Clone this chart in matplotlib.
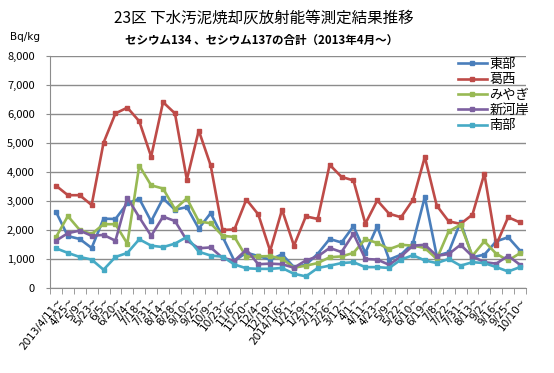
import matplotlib
matplotlib.use("Agg")
import matplotlib.pyplot as plt
from matplotlib.ticker import FuncFormatter, FixedLocator

plt.rcParams['font.family'] = ['Noto Sans CJK JP', 'DejaVu Sans']

# 測定期間 (x軸ラベル)
periods = ["2013/4/11~", "4/25~", "5/9~", "5/23~", "6/5~", "6/20~", "7/4~", "7/18~",
           "7/31~", "8/14~", "8/28~", "9/10~", "9/25~", "10/9~", "10/23~", "11/6~",
           "11/20~", "12/4~", "12/19~", "2014/1/6~", "1/21~", "1/29~", "2/13~", "2/26~",
           "3/12~", "4/1~", "4/11~", "4/23~", "5/9~", "5/22~", "6/10~", "6/19~",
           "7/8~", "7/22~", "7/31~", "8/13~", "9/2~", "9/16~", "9/25~", "10/10~"]

# Bq/kg
tobu = [2630, 1790, 1690, 1380, 2390, 2380, 2920, 3080, 2300, 3090,
        2700, 2790, 2050, 2580, 1770, 930, 1220, 1100, 980, 1160,
        720, 800, 1180, 1690, 1570, 2130, 1210, 2130, 980, 1150,
        1550, 3140, 1110, 1230, 2280, 1060, 1150, 1610, 1750, 1290]
kasai = [3530, 3200, 3200, 2860, 5010, 6020, 6220, 5750, 4530, 6410,
         6020, 3740, 5430, 4230, 2000, 2020, 3050, 2540, 1280, 2700,
         1460, 2470, 2380, 4250, 3830, 3710, 2220, 3020, 2560, 2440,
         3040, 4520, 2840, 2300, 2210, 2530, 3940, 1490, 2440, 2260]
miyagi = [1750, 2480, 2000, 1860, 2200, 2200, 1530, 4220, 3540, 3430,
          2720, 3090, 2300, 2230, 1800, 1760, 1070, 1090, 1100, 1010,
          700, 770, 860, 1060, 1090, 1210, 1690, 1550, 1340, 1490,
          1460, 1380, 1000, 1950, 2180, 1110, 1610, 1180, 950, 1200]
shinkashi = [1630, 1890, 1980, 1800, 1830, 1630, 3110, 2440, 1800, 2460,
             2310, 1640, 1370, 1400, 1040, 940, 1320, 820, 840, 820,
             700, 950, 1090, 1380, 1240, 1870, 1000, 980, 800, 1090,
             1460, 1490, 1110, 1170, 1490, 1090, 890, 840, 1110, 800]
nambu = [1370, 1210, 1070, 980, 630, 1070, 1210, 1680, 1460, 1410,
         1530, 1760, 1250, 1120, 1080, 810, 680, 660, 660, 690,
         490, 400, 690, 770, 860, 890, 720, 720, 690, 980,
         1130, 950, 860, 1000, 770, 890, 860, 720, 570, 720]

series = [("東部", tobu, "#4A7EBB"),
          ("葛西", kasai, "#BE4B48"),
          ("みやぎ", miyagi, "#98B954"),
          ("新河岸", shinkashi, "#7D60A0"),
          ("南部", nambu, "#46AAC5")]

fig = plt.figure(figsize=(5.54, 3.73), dpi=100)
ax = fig.add_axes([50/554, 1-288/373, 476/554, 232/373])

x = list(range(len(periods)))
for name, vals, col in series:
    ax.plot(x, vals, color=col, lw=1.9, marker="s", ms=3.2, label=name)

ax.set_xlim(-0.5, len(periods)-0.5)
ax.set_ylim(0, 8000)
ax.set_yticks(range(0, 8001, 1000))
ax.yaxis.set_major_formatter(FuncFormatter(lambda v, p: f"{int(v):,}"))
ax.grid(axis="y", color="#8c8c8c", lw=1)
ax.set_axisbelow(True)

ax.set_xticks(x)
ax.set_xticklabels(periods, rotation=52, ha="right", va="top", rotation_mode="anchor",
                   fontsize=7.5, family=["DejaVu Sans"])
ax.xaxis.set_minor_locator(FixedLocator([i - 0.5 for i in range(len(periods)+1)]))
ax.tick_params(axis="x", which="major", length=0, pad=6)
ax.tick_params(axis="x", which="minor", length=4, color="#8c8c8c", direction="out")
ax.tick_params(axis="y", length=3, color="#8c8c8c", labelsize=8, pad=8)

for s in ["top", "right"]:
    ax.spines[s].set_visible(False)
for s in ["left", "bottom"]:
    ax.spines[s].set_color("#8c8c8c")

leg = ax.legend(loc="upper right", bbox_to_anchor=(1.02, 1.02), frameon=False,
                fontsize=9.5, handlelength=2.2, handletextpad=0.2, labelspacing=0.18,
                borderpad=0)

fig.text(0.476, 0.95, "23区 下水汚泥焼却灰放射能等測定結果推移", ha="center", va="center",
         fontsize=11.2)
fig.text(0.473, 0.893, "セシウム134 、セシウム137の合計（2013年4月～）", ha="center", va="center",
         fontsize=8.3, fontweight="bold")
fig.text(0.018, 0.9, "Bq/kg", ha="left", va="center", fontsize=7.5, family=["DejaVu Sans"])

fig.savefig("out.png", dpi=100)
